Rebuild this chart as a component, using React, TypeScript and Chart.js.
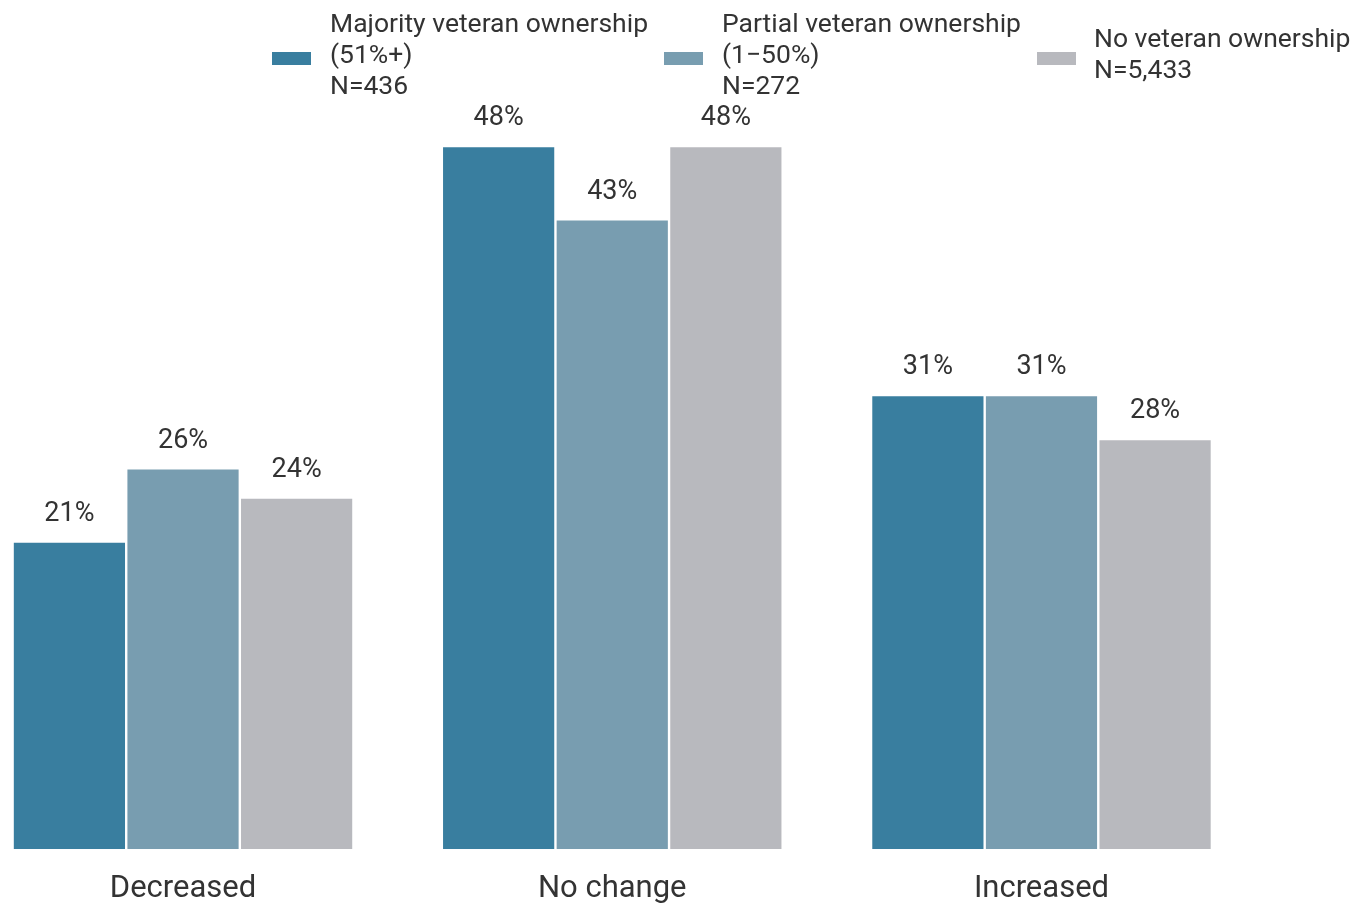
import React, { useEffect, useRef } from "react";
import { Chart, registerables } from "chart.js";

Chart.register(...registerables);

const categories = ["Decreased", "No change", "Increased"];
const majorityValues = [21, 48, 31];
const partialValues = [26, 43, 31];
const noneValues = [24, 48, 28];
const seriesLabels = [
  ["Majority veteran ownership", "(51%+)", "N=436"],
  ["Partial veteran ownership", "(1\u221250%)", "N=272"],
  ["No veteran ownership", "N=5,433"],
];
const colors = ["#397E9F", "#789DB0", "#B8B9BE"];

const FONT = "Roboto, 'Noto Sans', sans-serif";
const TEXT = "#333333";
const OFFSET_X = 40; // canvas is shifted left by this many px

const legendPlugin = {
  id: "customLegend",
  afterDraw(chart: any) {
    const ctx = chart.ctx;
    const items = [
      { swatchX: 272, textX: 330 },
      { swatchX: 664, textX: 722 },
      { swatchX: 1037, textX: 1094 },
    ];
    const centerY = 56;
    const lineH = 31;
    ctx.save();
    ctx.font = `26.5px ${FONT}`;
    ctx.textBaseline = "middle";
    ctx.textAlign = "left";
    items.forEach((it, i) => {
      const lines = seriesLabels[i];
      ctx.fillStyle = colors[i];
      ctx.fillRect(it.swatchX + OFFSET_X, 52, 39, 13);
      ctx.fillStyle = TEXT;
      const startY = centerY - ((lines.length - 1) * lineH) / 2;
      lines.forEach((ln, j) => {
        ctx.fillText(ln, it.textX + OFFSET_X, startY + j * lineH);
      });
    });
    ctx.restore();
  },
};

const valueLabelPlugin = {
  id: "valueLabels",
  afterDatasetsDraw(chart: any) {
    const ctx = chart.ctx;
    ctx.save();
    ctx.font = `27px ${FONT}`;
    ctx.fillStyle = TEXT;
    ctx.textAlign = "center";
    ctx.textBaseline = "middle";
    chart.data.datasets.forEach((ds: any, di: number) => {
      const meta = chart.getDatasetMeta(di);
      meta.data.forEach((bar: any, i: number) => {
        ctx.fillText(`${ds.data[i]}%`, bar.x, bar.y - 27.5);
      });
    });
    ctx.restore();
  },
};

export default function App() {
  const ref = useRef<HTMLCanvasElement>(null);
  useEffect(() => {
    if (!ref.current) return;
    const chart = new Chart(ref.current, {
      type: "bar",
      data: {
        labels: categories,
        datasets: [majorityValues, partialValues, noneValues].map((d, i) => ({
          label: seriesLabels[i].join(" "),
          data: d,
          backgroundColor: colors[i],
          borderColor: "#ffffff",
          borderWidth: 1.2,
          categoryPercentage: 0.794,
          barPercentage: 1,
        })),
      },
      options: {
        responsive: false,
        animation: false,
        layout: {
          padding: { left: 8.4, right: 101.9, top: 116.75, bottom: -24.4 },
        },
        plugins: {
          legend: { display: false },
          tooltip: { enabled: false },
        },
        scales: {
          y: {
            display: false,
            min: 0,
            max: 50,
          },
          x: {
            grid: { display: false, drawTicks: false },
            border: { display: false },
            ticks: {
              padding: 21,
              color: TEXT,
              font: { family: FONT, size: 31 },
            },
          },
        },
      },
      plugins: [valueLabelPlugin, legendPlugin],
    });
    return () => chart.destroy();
  }, []);
  return (
    <canvas
      ref={ref}
      width={1398}
      height={904}
      style={{ position: "absolute", left: -OFFSET_X, top: 0, width: 1398, height: 904 }}
    />
  );
}
